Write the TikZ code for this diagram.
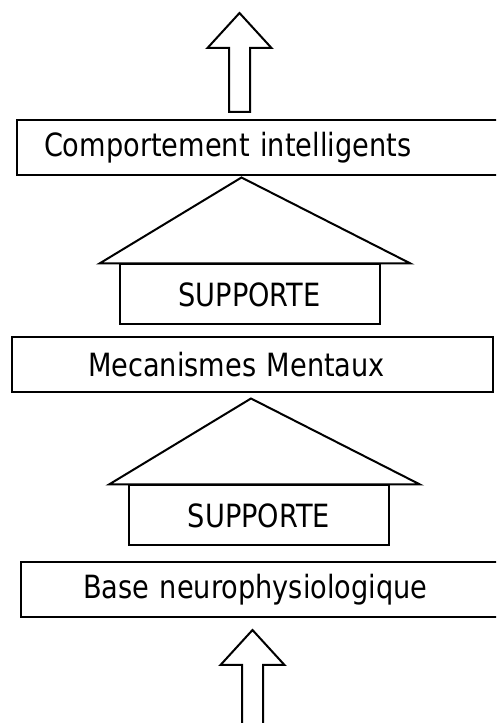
\documentclass[tikz,border=0pt]{standalone}
\usepackage{fontspec}
\setmainfont{DejaVu Sans}[FakeStretch=0.85]
\usepackage{tikz}
\usetikzlibrary{positioning,calc}

\tikzset{
  bigarrow/.pic={
    \draw[line join=miter] (-10.5,0) -- (-10.5,64) -- (-32,64) -- (0,99)
      -- (32,64) -- (10.5,64) -- (10.5,0) -- cycle;}
}

\begin{document}
\begin{tikzpicture}[x=1pt,y=1pt,line width=2pt,
    font=\fontsize{32}{38}\selectfont,
    band/.style={draw,anchor=west,minimum height=55pt,align=left,inner ysep=0pt},
    supbox/.style={draw,minimum width=260pt,minimum height=60pt}]
    \useasboundingbox (0,0) rectangle (496,723);
    \clip (0,0) rectangle (496,723);
    % the three levels
    \node[band,text width=435pt,inner xsep=27pt] (comp) at (16,575.5) {Comportement intelligents};
    \node[band,text width=329pt,inner xsep=76pt] (ment) at (11,358.5) {Mecanismes Mentaux};
    \node[band,text width=361pt,inner xsep=62pt] (base) at (20,133.5) {Base neurophysiologique};
    % the two houses
    \node[supbox] (sup1) at (249.5,428.5) {SUPPORTE};
    \node[supbox] (sup2) at (259,207.5) {SUPPORTE};
    \foreach \s in {sup1,sup2}{
      \draw[line join=miter] ($(\s.north west)+(-19,0)$) -- ($(\s.north)+(-8,86)$)
        -- ($(\s.north east)+(30,0)$) -- cycle;}
    % in and out
    \coordinate (out) at (239.5,611);
    \coordinate (in) at (252.5,-6);
    \pic at (out) {bigarrow};
    \pic at (in) {bigarrow};
  \end{tikzpicture}
\end{document}
